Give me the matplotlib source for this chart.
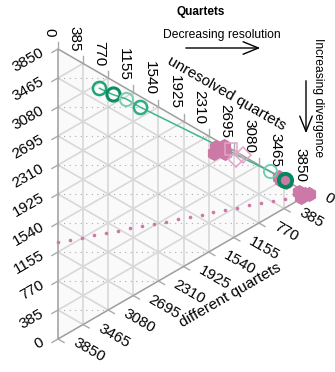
import numpy as np
import matplotlib.pyplot as plt

plt.rcParams['font.family'] = ['Liberation Sans', 'DejaVu Sans']

N = 3850
tick_vals = [0, 385, 770, 1155, 1540, 1925, 2310, 2695, 3080, 3465, 3850]

# trees: similar / unresolved / different quartets
green_similar = [3010, 2827, 2667, 2451, 600, 370]
green_unresolved = [636, 838, 1043, 1257, 3250, 3480]
green_different = [204, 185, 140, 142, 0, 0]
green_colors = ['#1EA37A', '#0B8F62', '#85CDAE', '#2FAD84', '#67CFA7', '#00895A']
green_widths = [1.8, 2.2, 1.5, 1.8, 1.3, 2.8]

pink_similar = [1267, 1338, 1189, 1274, 1290, 460, 380, 330, 400, 0, 60, 100, 40, 20]
pink_unresolved = [2483, 2422, 2560, 2391, 2545, 3390, 3460, 3500, 3420, 3850, 3740, 3700, 3780, 3720]
pink_different = [99, 90, 101, 185, 15, 0, 10, 20, 30, 0, 50, 50, 30, 110]

open_similar = [1193, 1025, 1025]
open_unresolved = [2657, 2729, 2836]
open_different = [0, 96, 0]
open_markers = ['s', 'D', 'D']

# expected line for random trees
rand_unresolved = [0, 183, 367, 550, 733, 917, 1100, 1283, 1467, 1650, 1833,
                   2017, 2200, 2383, 2567, 2750, 2933, 3117, 3300, 3483, 3667, 3850]
rand_similar = [1283, 1222, 1161, 1100, 1039, 978, 917, 856, 794, 733, 672,
                611, 550, 489, 428, 367, 306, 244, 183, 122, 61, 0]

S3 = np.sqrt(3) / 2
PX = 1 / 290.0


def tern(s, u):
    s = np.asarray(s) / N
    u = np.asarray(u) / N
    return u * S3, s + u / 2


fig = plt.figure(figsize=(3.35, 3.72), dpi=100)
ax = fig.add_axes([0, 0, 1, 1])
ax.set_xlim(-58 * PX, 277 * PX)
ax.set_ylim(-33 * PX, 339 * PX)
ax.axis('off')

# background + grid
tri = np.array([[0, 0], [0, 1], [S3, 0.5], [0, 0]])
ax.fill(tri[:, 0], tri[:, 1], color='#FAFAFA', zorder=0)
gcol = '#D8D8D8'
for k in range(1, 10):
    f = k / 10
    ax.plot([f * S3, f * S3], [f / 2, 1 - f / 2], color=gcol, lw=1.2, zorder=1)
    ax.plot([0, (1 - f) * S3], [f, f + (1 - f) / 2], color=gcol, lw=1.2, zorder=1)
    ax.plot([0, (1 - f) * S3], [1 - f, (1 - f) / 2], color=gcol, lw=1.2, zorder=1)
    # horizontal dotted lines
    xe = (1 - f) * np.sqrt(3) if f > 0.5 else f * np.sqrt(3)
    ax.plot([0, xe], [f, f], color='#AAAAAA', lw=0.8, ls=(0, (1, 4)), zorder=1)
ax.plot(tri[:, 0], tri[:, 1], color='#9E9E9E', lw=1.1, zorder=2)

# ticks and labels
c30, s30 = np.cos(np.pi / 6), np.sin(np.pi / 6)
tl = 7 * PX
for k, v in enumerate(tick_vals):
    f = k / 10
    # left axis (similar)
    x0, y0 = 0, f
    ax.plot([x0, x0 - tl * c30], [y0, y0 - tl * s30], color='#AAAAAA', lw=1, zorder=2)
    ax.text(x0 - 15 * PX, y0 - 2.5 * PX, str(v), rotation=30, rotation_mode='anchor',
            ha='right', va='center', fontsize=11)
    # top axis (unresolved)
    x0, y0 = f * S3, 1 - f / 2
    ax.plot([x0, x0], [y0, y0 + tl], color='#AAAAAA', lw=1, zorder=2)
    ax.text(x0 - 9 * PX, y0 + 12 * PX, str(v), rotation=-90, rotation_mode='anchor',
            ha='right', va='center', fontsize=11)
    # bottom axis (different)
    x0, y0 = (1 - f) * S3, (1 - f) / 2
    ax.plot([x0, x0 + tl * c30], [y0, y0 - tl * s30], color='#AAAAAA', lw=1, zorder=2)
    ax.text(x0 + 16 * PX, y0 - 3 * PX, str(v), rotation=-30, rotation_mode='anchor',
            ha='left', va='center', fontsize=11)

ax.text((227 - 58) * PX, (339 - 93) * PX, 'unresolved quartets', rotation=-30,
        ha='center', va='center', fontsize=11, rotation_mode='anchor')
ax.text((230 - 58) * PX, (339 - 295) * PX, 'different quartets', rotation=30,
        ha='center', va='center', fontsize=11, rotation_mode='anchor')

# random expectation
rx, ry = tern(rand_similar, rand_unresolved)
ax.plot(rx, ry, ls='none', marker='o', ms=2.6, color='#CC79A7', mec='none', zorder=3)

# green trajectory
gx, gy = tern(green_similar, green_unresolved)
ax.plot(gx, gy, color='#3DB68C', lw=1.1, zorder=4)

# pink trees
px_, py_ = tern(pink_similar, pink_unresolved)
ax.scatter(px_, py_, s=110, marker='*', color='#CC79A7', lw=0, zorder=5)
ax.scatter(px_, py_, s=120, marker='h', color='#CC79A7', lw=0, zorder=5)
ax.scatter(px_, py_, s=90, marker='8', color='#CC79A7', lw=0, zorder=5)
ox, oy = tern(open_similar, open_unresolved)
for x, y, m in zip(ox, oy, open_markers):
    ax.plot(x, y, marker=m, ms=8, mfc='none', mec='#E2A5C7', mew=1.1, zorder=5)

for x, y, c, w in zip(gx, gy, green_colors, green_widths):
    ax.plot(x, y, marker='o', ms=9.5, mfc='none', mec=c, mew=w, zorder=6)

# titles and arrows (pixel space)
def P(x, y):
    return (x - 58) * PX, (339 - y) * PX

ax.text(*P(201, 12), 'Quartets', ha='center', va='center', fontsize=8.5, fontweight='bold')
ax.text(*P(163, 35), 'Decreasing resolution', ha='left', va='center', fontsize=8.7)
ax.annotate('', xy=P(263, 48), xytext=P(183, 48),
            arrowprops=dict(arrowstyle='->,head_length=1.1,head_width=0.45', lw=1, color='black'))
ax.text(*P(318, 38), 'Increasing divergence', ha='left', va='center', rotation=-90,
        rotation_mode='anchor', fontsize=8.7)
ax.annotate('', xy=P(306, 136), xytext=P(306, 78),
            arrowprops=dict(arrowstyle='->,head_length=1.1,head_width=0.45', lw=1, color='black'))

fig.savefig('out.png', dpi=100)
